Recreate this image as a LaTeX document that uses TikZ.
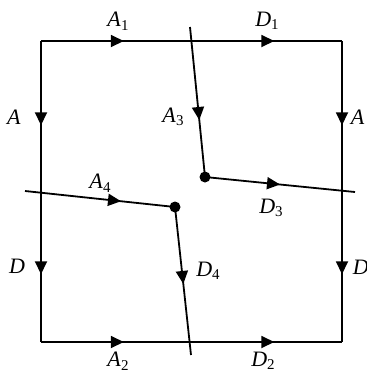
\documentclass[tikz,border=0pt]{standalone}
\usepackage{fontspec}
\setmainfont{Liberation Serif}
\usetikzlibrary{arrows.meta,decorations.markings}
\newcommand{\sublbl}[2]{\textit{#1}\raisebox{-0.35ex}{\fontsize{15}{15}\selectfont #2}}
\begin{document}
\begin{tikzpicture}[x=1pt,y=-1pt,line width=1.8pt,
  lbl/.style={font=\fontsize{22}{23}\selectfont, inner sep=0pt},
  dotnode/.style={circle,fill,inner sep=0pt,minimum size=11pt},
  arr/.style={postaction={decorate},decoration={markings,
     mark=at position #1 with {\arrow{Triangle[length=13pt,width=12pt]}}}},
  arrtwo/.style 2 args={postaction={decorate},decoration={markings,
     mark=at position #1 with {\arrow{Triangle[length=13pt,width=12pt]}},
     mark=at position #2 with {\arrow{Triangle[length=13pt,width=12pt]}}}}]
\useasboundingbox (0,0) rectangle (367,373);
\clip (0,0) rectangle (367,373);
% corners
\coordinate (TL) at (41,41);
\coordinate (TR) at (342,41);
\coordinate (BR) at (342,342);
\coordinate (BL) at (41,342);
% cut ends
\coordinate (ttop) at (190,27);
\coordinate (tbot) at (191,355);
\coordinate (tleft) at (25,191);
\coordinate (tright) at (355,192);
% junction dots
\node[dotnode] (P) at (205,177) {};
\node[dotnode] (Q) at (175,207) {};
% square
\draw[arrtwo={0.275}{0.775}] (TL) -- (TR);
\draw[arrtwo={0.275}{0.775}] (BL) -- (BR);
\draw[arrtwo={0.28}{0.775}] (TL) -- (BL);
\draw[arrtwo={0.28}{0.775}] (TR) -- (BR);
% inner lines
\draw[arr=0.62] (ttop) -- (P.center);
\draw[arr=0.50] (P.center) -- (tright);
\draw[arr=0.64] (tleft) -- (Q.center);
\draw[arr=0.52] (Q.center) -- (tbot);
% labels
\node[lbl] (lA1) at (118,21) {\sublbl{A}{1}};
\node[lbl] (lD1) at (267,21) {\sublbl{D}{1}};
\node[lbl] (lAl) at (14,117) {\textit{A}};
\node[lbl] (lA3) at (173,117) {\sublbl{A}{3}};
\node[lbl,anchor=west] (lAr) at (350,117) {\textit{A}};
\node[lbl] (lA4) at (100,183) {\sublbl{A}{4}};
\node[lbl] (lD3) at (271,208) {\sublbl{D}{3}};
\node[lbl] (lDl) at (17,266) {\textit{D}};
\node[lbl] (lD4) at (208,271) {\sublbl{D}{4}};
\node[lbl,anchor=west] (lDr) at (352,267) {\textit{D}};
\node[lbl] (lA2) at (118,361) {\sublbl{A}{2}};
\node[lbl] (lD2) at (263,361) {\sublbl{D}{2}};
\end{tikzpicture}
\end{document}
